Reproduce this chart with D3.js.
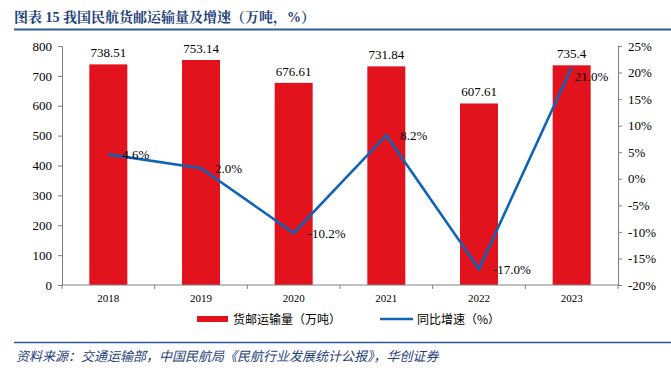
<!DOCTYPE html>
<html>
<head>
<meta charset="utf-8">
<script src="https://cdn.jsdelivr.net/npm/d3@7"></script>
<style>
body { margin: 0; background: #fff; }
svg text { font-family: "Liberation Serif", "Times New Roman", serif; }
</style>
</head>
<body>
<script>
// data
var years = ["2018", "2019", "2020", "2021", "2022", "2023"];
var volume = [738.51, 753.14, 676.61, 731.84, 607.61, 735.4];
var volumeLabels = ["738.51", "753.14", "676.61", "731.84", "607.61", "735.4"];
var growth = [4.6, 2.0, -10.2, 8.2, -17.0, 21.0];
var leftTicks = [0, 100, 200, 300, 400, 500, 600, 700, 800];
var rightTicks = [-20, -15, -10, -5, 0, 5, 10, 15, 20, 25];

var width = 671, height = 373;
// plot box (window.top is reserved, so prefixed names)
var plotL = 62, plotR = 618, plotT = 46, plotB = 285;

var svg = d3.select("body").append("svg")
    .attr("width", width)
    .attr("height", height);

var cjk = '"Noto Sans CJK SC", sans-serif';
var navy = "#1f3f7a";

// title
svg.append("text")
    .attr("x", 14).attr("y", 22)
    .attr("font-size", 14).attr("font-weight", "bold")
    .attr("fill", navy)
    .style("font-family", '"Liberation Serif", "Noto Serif CJK SC", "Noto Sans CJK SC", serif')
    .text("图表 15 我国民航货邮运输量及增速（万吨，%）");
svg.append("line")
    .attr("x1", 14).attr("x2", 671).attr("y1", 29.5).attr("y2", 29.5)
    .attr("stroke", "#2f5a94").attr("stroke-width", 2);

// scales
var x = d3.scaleBand().domain(years).range([plotL, plotR]).paddingInner(0.59).paddingOuter(0.295);
var xc = d3.scaleBand().domain(years).range([plotL, plotR]);
var yL = d3.scaleLinear().domain([0, 800]).range([plotB, plotT]);
var yR = d3.scaleLinear().domain([-20, 25]).range([plotB, plotT]);

// bars
svg.selectAll(".bar").data(volume).enter().append("rect")
    .attr("x", function(d, i){ return x(years[i]); })
    .attr("y", function(d){ return yL(d); })
    .attr("width", x.bandwidth())
    .attr("height", function(d){ return plotB - yL(d); })
    .attr("fill", "#e3131d");

svg.selectAll(".barlab").data(volume).enter().append("text")
    .attr("x", function(d, i){ return xc(years[i]) + xc.bandwidth() / 2; })
    .attr("y", function(d){ return yL(d) - 7; })
    .attr("text-anchor", "middle")
    .attr("font-size", 13)
    .text(function(d, i){ return volumeLabels[i]; });

// axes
function styleAxis(g){
    g.selectAll("path, line").attr("stroke", "#808080");
    g.selectAll("text").attr("fill", "#000").style("font-family", '"Liberation Serif", serif');
}
svg.append("g")
    .attr("transform", "translate(" + plotL + ",0)")
    .call(d3.axisLeft(yL).tickValues(leftTicks).tickSize(4).tickSizeOuter(0).tickPadding(6))
    .call(styleAxis)
    .selectAll("text").attr("font-size", 13);

svg.append("g")
    .attr("transform", "translate(" + plotR + ",0)")
    .call(d3.axisRight(yR).tickValues(rightTicks).tickSize(4).tickSizeOuter(0).tickPadding(6)
        .tickFormat(function(d){ return d + "%"; }))
    .call(styleAxis)
    .selectAll("text").attr("font-size", 13);

// bottom axis, ticks at category boundaries
var xAxis = svg.append("g").attr("transform", "translate(0," + plotB + ")");
xAxis.append("line").attr("x1", plotL).attr("x2", plotR).attr("stroke", "#808080");
xAxis.selectAll(".tk").data(years.concat(["end"])).enter().append("line")
    .attr("x1", function(d, i){ return plotL + i * xc.step(); })
    .attr("x2", function(d, i){ return plotL + i * xc.step(); })
    .attr("y1", 0).attr("y2", 4)
    .attr("stroke", "#808080");
xAxis.selectAll(".xl").data(years).enter().append("text")
    .attr("x", function(d){ return xc(d) + xc.bandwidth() / 2; })
    .attr("y", 17)
    .attr("text-anchor", "middle")
    .attr("font-size", 11)
    .text(function(d){ return d; });

// growth line
var line = d3.line()
    .x(function(d, i){ return xc(years[i]) + xc.bandwidth() / 2; })
    .y(function(d){ return yR(d); });
svg.append("path")
    .datum(growth)
    .attr("d", line)
    .attr("fill", "none")
    .attr("stroke", "#0f64b8")
    .attr("stroke-width", 2.6);

svg.selectAll(".glab").data(growth).enter().append("text")
    .attr("x", function(d, i){ return xc(years[i]) + xc.bandwidth() / 2 + (i == 5 ? 3 : 14); })
    .attr("y", function(d, i){ return yR(d) + (i == 5 ? 14 : 5); })
    .attr("font-size", 13)
    .text(function(d){ return d.toFixed(1) + "%"; });

// legend
svg.append("rect").attr("x", 197).attr("y", 316).attr("width", 31).attr("height", 6).attr("fill", "#e3131d");
svg.append("text").attr("x", 233).attr("y", 324).attr("font-size", 12)
    .style("font-family", cjk).text("货邮运输量（万吨）");
svg.append("line").attr("x1", 380).attr("x2", 413).attr("y1", 319).attr("y2", 319)
    .attr("stroke", "#0f64b8").attr("stroke-width", 2.6);
svg.append("text").attr("x", 417).attr("y", 324).attr("font-size", 12)
    .style("font-family", cjk).text("同比增速（%）");

// source
svg.append("line")
    .attr("x1", 14).attr("x2", 671).attr("y1", 342.5).attr("y2", 342.5)
    .attr("stroke", "#2f5a94").attr("stroke-width", 1.5);
svg.append("text")
    .attr("x", 16).attr("y", 361)
    .attr("font-size", 13).attr("font-style", "italic")
    .attr("fill", navy)
    .style("font-family", cjk)
    .text("资料来源：交通运输部，中国民航局《民航行业发展统计公报》，华创证券");
</script>
</body>
</html>
